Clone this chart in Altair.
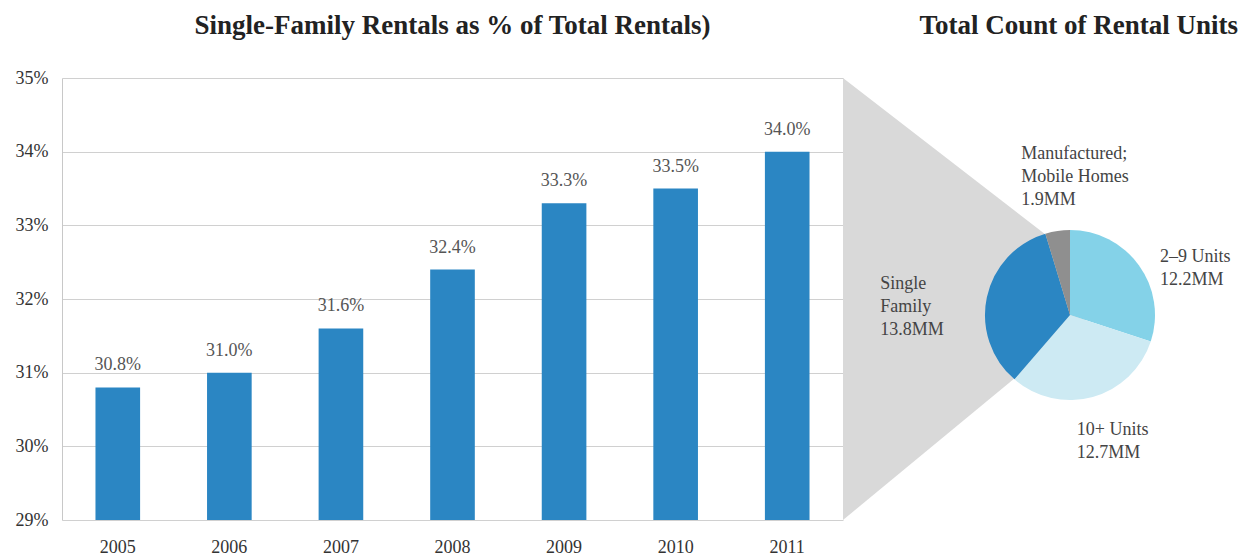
import altair as alt
import pandas as pd

# ---- data ----
years = ["2005", "2006", "2007", "2008", "2009", "2010", "2011"]
sf_share = [30.8, 31.0, 31.6, 32.4, 33.3, 33.5, 34.0]
y_ticks = [29, 30, 31, 32, 33, 34, 35]

unit_types = ["2–9 Units", "10+ Units", "Single Family", "Manufactured; Mobile Homes"]
unit_counts = [12.2, 12.7, 13.8, 1.9]
unit_labels = ["2–9 Units\n12.2MM", "10+ Units\n12.7MM", "Single\nFamily\n13.8MM",
               "Manufactured;\nMobile Homes\n1.9MM"]
unit_order = [0, 1, 2, 3]

# callout connecting the bar axis range (35% .. 29%) to the pie
callout_pos = [0.0, 0.70]
callout_top = [35.0, 32.1]
callout_bottom = [29.0, 32.1]

FONT = "Liberation Serif, Times New Roman, serif"
BLUE = "#2b86c3"
LABEL_SIZE = 18

bars_df = pd.DataFrame({"year": years, "share": sf_share})
bars_df["label"] = [f"{v:.1f}%" for v in sf_share]
pie_df = pd.DataFrame({"type": unit_types, "count": unit_counts,
                       "label": unit_labels, "order": unit_order})
callout_df = pd.DataFrame({"pos": callout_pos, "top": callout_top, "bottom": callout_bottom})

LW, H = 781, 442
RW = 395

y_scale = alt.Scale(domain=[29, 35], nice=False, zero=False)

bar_base = alt.Chart(bars_df).encode(
    x=alt.X("year:N", sort=years,
            scale=alt.Scale(paddingInner=0.6, paddingOuter=0.3),
            axis=alt.Axis(title=None, labelAngle=0, ticks=False, domain=False,
                          labelPadding=18, labelFont=FONT, labelFontSize=LABEL_SIZE,
                          labelColor="#333333")),
    y=alt.Y("share:Q", scale=y_scale,
            axis=alt.Axis(title=None, values=y_ticks, labelExpr="datum.value + '%'",
                          ticks=False, domain=True, domainColor="#c8c8c8",
                          gridColor="#d0d0d0", labelPadding=14, labelFont=FONT,
                          labelFontSize=LABEL_SIZE, labelColor="#333333")),
)
bars = bar_base.mark_bar(color=BLUE, clip=True)
bar_text = bar_base.mark_text(dy=-17, baseline="alphabetic", font=FONT,
                              fontSize=LABEL_SIZE, color="#555555").encode(text="label:N")

left = (bars + bar_text).properties(
    width=LW, height=H,
    title=alt.TitleParams("Single-Family Rentals as % of Total Rentals)", font=FONT,
                          fontSize=27, fontWeight="bold", color="#222222",
                          anchor="middle", offset=29),
)

# right panel
CX, CY = 1070 - 843, 315 - 78

callout = alt.Chart(callout_df).mark_area(color="#d9d9d9", opacity=1).encode(
    x=alt.X("pos:Q", scale=alt.Scale(domain=[0, 1], nice=False, zero=False), axis=None),
    y=alt.Y("top:Q", scale=y_scale, axis=None),
    y2="bottom:Q",
)

pie_base = alt.Chart(pie_df).encode(
    theta=alt.Theta("count:Q", stack=True),
    order=alt.Order("order:Q"),
    x=alt.value(CX), y=alt.value(CY),
)
pie = pie_base.mark_arc(outerRadius=85).encode(
    color=alt.Color("type:N", sort=unit_types,
                    scale=alt.Scale(domain=unit_types,
                                    range=["#84d2e8", "#cdeaf3", "#2b86c3", "#8f8f8f"]),
                    legend=None)
)

def pie_label(name, radius, dx, dy):
    return pie_base.mark_text(radius=radius, dx=dx, dy=dy, align="left", baseline="top",
                              lineBreak="\n", font=FONT, fontSize=LABEL_SIZE,
                              color="#444444", lineHeight=23).encode(
        text=alt.condition(alt.datum.type == name, alt.Text("label:N"), alt.value(""))
    )

labels = [
    pie_label("2–9 Units", 100, 9, -8),
    pie_label("10+ Units", 100, -20, 10),
    pie_label("Single Family", 100, -92, -19),
    pie_label("Manufactured; Mobile Homes", 100, -34, -71),
]

right = alt.layer(callout, pie, *labels).properties(
    width=RW, height=H,
    title=alt.TitleParams("Total Count of Rental Units", font=FONT, fontSize=27,
                          fontWeight="bold", color="#222222", anchor="end", offset=38),
).resolve_scale(x="independent")

chart = alt.hconcat(left, right, spacing=0).properties(
    padding={"left": 7, "top": 4, "right": 0, "bottom": 0}
).configure_view(stroke=None).configure_concat(spacing=0)

chart.save("out.html", embed_options={"renderer": "svg", "actions": False})
